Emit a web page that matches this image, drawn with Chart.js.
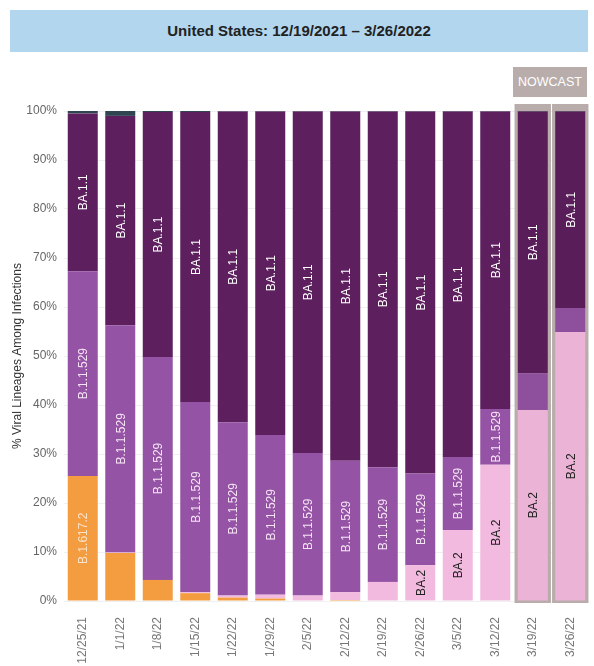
<!DOCTYPE html>
<html>
<head>
<meta charset="utf-8">
<script src="https://cdn.jsdelivr.net/npm/chart.js@4"></script>
<style>
  body { margin: 0; background: #fff; font-family: "Liberation Sans", Arial, sans-serif; }
  #wrap { position: relative; width: 594px; height: 666px; }
  #title {
    position: absolute; left: 10px; top: 10px; width: 578px; height: 42px;
    background: #b1d6ee; color: #222; font-weight: bold; font-size: 15px;
    line-height: 42px; text-align: center;
  }
  #nowcast {
    position: absolute; left: 513px; top: 67px; width: 74px; height: 30px;
    background: #b8adab; color: #fff; font-size: 12.5px; line-height: 30px; text-align: center;
  }
  canvas { position: absolute; left: 0; top: 0; }
</style>
</head>
<body>
<div id="wrap">
  <canvas id="chart" width="594" height="666"></canvas>
  <div id="title">United States: 12/19/2021 – 3/26/2022</div>
  <div id="nowcast">NOWCAST</div>
</div>
<script>
const weeks = ["12/25/21", "1/1/22", "1/8/22", "1/15/22", "1/22/22", "1/29/22", "2/5/22",
  "2/12/22", "2/19/22", "2/26/22", "3/5/22", "3/12/22", "3/19/22", "3/26/22"];
const delta = [25.5, 9.8, 4.3, 1.6, 0.7, 0.5, 0.1, 0.2, 0.1, 0.1, 0, 0, 0, 0];
const ba2 = [0, 0.1, 0, 0.2, 0.4, 0.8, 1.0, 1.6, 3.8, 7.2, 14.5, 27.8, 39.0, 54.9];
const b11529 = [41.8, 46.4, 45.5, 38.8, 35.4, 32.6, 29.1, 26.8, 23.4, 18.7, 14.9, 11.4, 7.5, 4.9];
const ba11 = [32.2, 42.7, 50.0, 59.2, 63.4, 66.0, 69.7, 71.3, 72.6, 73.9, 70.5, 60.7, 53.4, 40.1];
const other = [0.5, 1.0, 0.2, 0.2, 0.1, 0.1, 0.1, 0.1, 0.1, 0.1, 0.1, 0.1, 0.1, 0.1];
const yTicks = [0, 10, 20, 30, 40, 50, 60, 70, 80, 90, 100];
const nowcastWeeks = ["3/19/22", "3/26/22"];

const font = "Liberation Sans, Arial, sans-serif";

// nowcast bars are drawn a touch duller
function colorFor(normal, nowcast) {
  return (c) => (nowcastWeeks.includes(weeks[c.dataIndex]) ? nowcast : normal);
}

// grey frame behind the nowcast weeks
const nowcastFrame = {
  id: "nowcastFrame",
  beforeDatasetsDraw(chart) {
    const ctx = chart.ctx;
    const area = chart.chartArea;
    const meta = chart.getDatasetMeta(0);
    ctx.save();
    ctx.fillStyle = "#b8adab";
    nowcastWeeks.forEach((w) => {
      const bar = meta.data[weeks.indexOf(w)];
      const half = bar.width / 2 + 3.2;
      ctx.fillRect(bar.x - half, area.top - 7, half * 2, area.bottom - area.top + 9);
    });
    ctx.restore();
  },
};

// vertical lineage names inside the segments
const segmentLabels = {
  id: "segmentLabels",
  afterDatasetsDraw(chart) {
    const ctx = chart.ctx;
    ctx.save();
    ctx.font = "12px " + font;
    ctx.textAlign = "center";
    ctx.textBaseline = "middle";
    chart.data.datasets.forEach((ds, i) => {
      if (!ds.labelColor) return;
      chart.getDatasetMeta(i).data.forEach((bar) => {
        const h = bar.base - bar.y;
        const tw = ctx.measureText(ds.label).width;
        if (h < tw + 2) return;
        ctx.save();
        ctx.translate(bar.x, (bar.y + bar.base) / 2);
        ctx.rotate(-Math.PI / 2);
        ctx.fillStyle = ds.labelColor;
        ctx.fillText(ds.label, 0, 1);
        ctx.restore();
      });
    });
    ctx.restore();
  },
};

new Chart(document.getElementById("chart"), {
  type: "bar",
  data: {
    labels: weeks,
    datasets: [
      { label: "B.1.617.2", data: delta, backgroundColor: colorFor("#f39c40", "#e9973f"), labelColor: "#fbe3c8" },
      { label: "BA.2", data: ba2, backgroundColor: colorFor("#f2badf", "#ebb4d7"), labelColor: "#222" },
      { label: "B.1.1.529", data: b11529, backgroundColor: colorFor("#9453a4", "#8e509d"), labelColor: "#f6e4f4" },
      { label: "BA.1.1", data: ba11, backgroundColor: colorFor("#5d1f5e", "#591d59"), labelColor: "#fff" },
      { label: "Other", data: other, backgroundColor: "#2f4652" },
    ],
  },
  options: {
    responsive: false,
    animation: false,
    datasets: { bar: { barPercentage: 0.8, categoryPercentage: 1 } },
    layout: { padding: { top: 111, right: 5, left: 0, bottom: 0 } },
    plugins: { legend: { display: false }, tooltip: { enabled: false } },
    scales: {
      x: {
        stacked: true,
        grid: { display: false },
        border: { display: false },
        ticks: { minRotation: 90, maxRotation: 90, color: "#777", font: { family: font, size: 12 }, padding: 8 },
        afterFit(scale) { scale.height = 65; },
      },
      y: {
        stacked: true,
        min: 0,
        max: 100,
        afterBuildTicks(scale) { scale.ticks = yTicks.map((v) => ({ value: v })); },
        afterFit(scale) { scale.width = 64; },
        grid: { color: "#f0f0f0", drawTicks: false },
        border: { display: false },
        ticks: { color: "#666", font: { family: font, size: 12 }, padding: 7, callback: (v) => v + "%" },
        title: {
          display: true,
          text: "% Viral Lineages Among Infections",
          color: "#333",
          font: { family: font, size: 12 },
          padding: { top: 10, bottom: 0 },
        },
      },
    },
  },
  plugins: [nowcastFrame, segmentLabels],
});
</script>
</body>
</html>
